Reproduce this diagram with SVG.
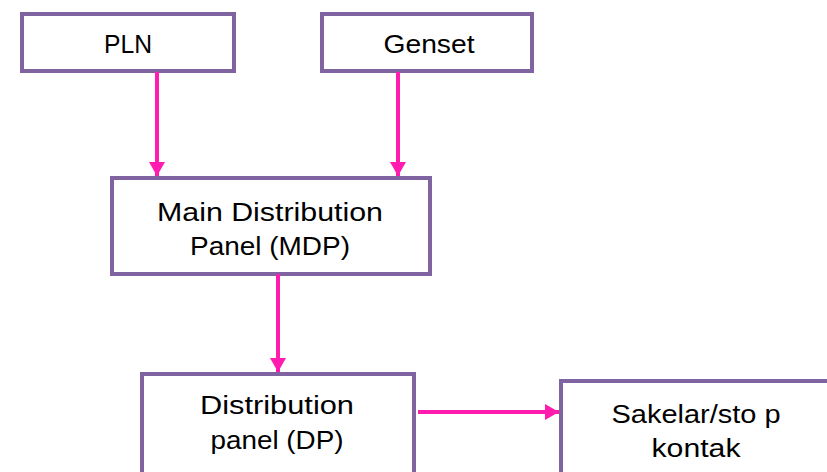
<svg xmlns="http://www.w3.org/2000/svg" width="827" height="472" viewBox="0 0 827 472">
<style>
.box{fill:#ffffff;stroke:#8064A2;stroke-width:4}
.lbl{font-family:"Liberation Sans",Arial,sans-serif;font-size:25px;fill:#000;text-anchor:middle;dominant-baseline:central}
.con{stroke:#FF1CAE;stroke-width:4;fill:none}
</style>
<defs>
<marker id="ah" markerUnits="userSpaceOnUse" markerWidth="16" markerHeight="16" refX="14" refY="8" orient="auto">
<path d="M0,0 L14,8 L0,16 Z" fill="#FF1CAE"/>
</marker>
</defs>
<rect width="827" height="472" fill="#ffffff"/>
<g id="pln"><rect class="box" x="22" y="14" width="212" height="57"/><text class="lbl" x="128" y="44" textLength="48" lengthAdjust="spacingAndGlyphs">PLN</text></g>
<g id="genset"><rect class="box" x="322" y="14" width="210" height="57"/><text class="lbl" x="429" y="44" textLength="91" lengthAdjust="spacingAndGlyphs">Genset</text></g>
<g id="mdp"><rect class="box" x="112" y="178" width="318" height="96"/><text class="lbl" x="270" y="212" textLength="226" lengthAdjust="spacingAndGlyphs">Main Distribution</text><text class="lbl" x="270" y="246" textLength="160" lengthAdjust="spacingAndGlyphs">Panel (MDP)</text></g>
<g id="dp"><rect class="box" x="142" y="374" width="272" height="100"/><text class="lbl" x="277" y="405" textLength="154" lengthAdjust="spacingAndGlyphs">Distribution</text><text class="lbl" x="277" y="440" textLength="133" lengthAdjust="spacingAndGlyphs">panel (DP)</text></g>
<g id="sakelar"><rect class="box" x="561" y="381" width="290" height="100"/><text class="lbl" x="696" y="414" textLength="169" lengthAdjust="spacingAndGlyphs">Sakelar/sto p</text><text class="lbl" x="696" y="448" textLength="89" lengthAdjust="spacingAndGlyphs">kontak</text></g>
<g id="connectors">
<line class="con" x1="157" y1="72" x2="157" y2="176" marker-end="url(#ah)"/>
<line class="con" x1="398" y1="72" x2="398" y2="176" marker-end="url(#ah)"/>
<line class="con" x1="278" y1="274" x2="278" y2="372" marker-end="url(#ah)"/>
<line class="con" x1="418" y1="412" x2="559" y2="412" marker-end="url(#ah)"/>
</g>
</svg>
